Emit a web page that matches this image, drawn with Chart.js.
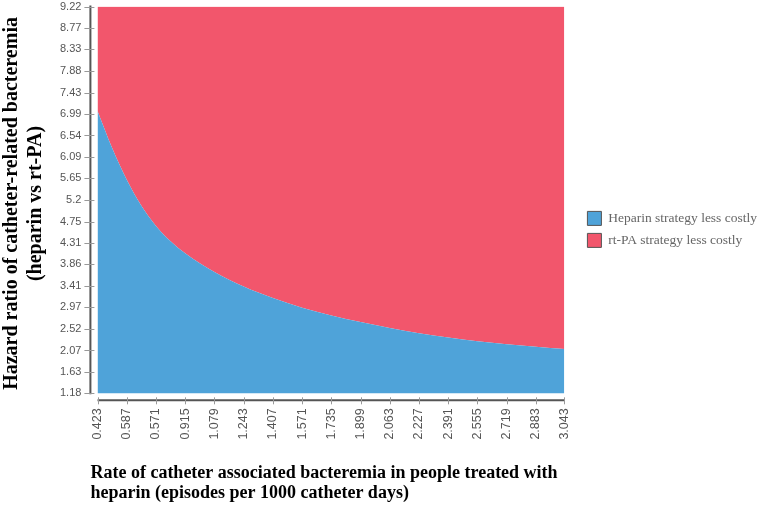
<!DOCTYPE html>
<html>
<head>
<meta charset="utf-8">
<script src="https://cdn.jsdelivr.net/npm/chart.js@4/dist/chart.umd.min.js"></script>
<style>
  html, body { margin: 0; padding: 0; background: #fff; }
  #wrap { width: 765px; height: 508px; }
</style>
</head>
<body>
<div id="wrap"><canvas id="chart" width="765" height="508"></canvas></div>
<script>
// x axis ticks (labels copied as printed, including "0.571")
const xTicks = [0.423, 0.587, 0.751, 0.915, 1.079, 1.243, 1.407, 1.571, 1.735, 1.899, 2.063, 2.227, 2.391, 2.555, 2.719, 2.883, 3.043];
const xTickLabels = ["0.423", "0.587", "0.571", "0.915", "1.079", "1.243", "1.407", "1.571", "1.735", "1.899", "2.063", "2.227", "2.391", "2.555", "2.719", "2.883", "3.043"];

// y axis ticks
const yTicks = [9.22, 8.77, 8.33, 7.88, 7.43, 6.99, 6.54, 6.09, 5.65, 5.2, 4.75, 4.31, 3.86, 3.41, 2.97, 2.52, 2.07, 1.63, 1.18];
const yTickLabels = ["9.22", "8.77", "8.33", "7.88", "7.43", "6.99", "6.54", "6.09", "5.65", "5.2", "4.75", "4.31", "3.86", "3.41", "2.97", "2.52", "2.07", "1.63", "1.18"];

// threshold curve: below = heparin less costly, above = rt-PA less costly
const curveX = [0.423, 0.505, 0.587, 0.669, 0.751, 0.833, 0.915, 1.079, 1.243, 1.407, 1.571, 1.735, 1.899, 2.063, 2.227, 2.391, 2.555, 2.719, 2.883, 3.043];
const curveY = [7.05, 6.28, 5.62, 5.08, 4.66, 4.34, 4.09, 3.70, 3.40, 3.16, 2.96, 2.80, 2.66, 2.54, 2.43, 2.34, 2.26, 2.20, 2.15, 2.10];

const seriesNames = ["Heparin strategy less costly", "rt-PA strategy less costly"];

const BLUE = "#4fa3d9";
const RED = "#f2566c";

const yMin = yTicks[yTicks.length - 1];
const yMax = yTicks[0];

const fontSans = "'Liberation Sans', Arial, sans-serif";
const fontSerif = "'Liberation Serif', 'Times New Roman', serif";

// extra gap between plot and legend items (legend padding also sets row spacing)
const LEGEND_GAP = 15;

// axis lines + crossing tick marks, offset from the plot like the original
const axesPlugin = {
    id: "axes",
    beforeLayout(chart) {
        const legend = chart.legend;
        if (legend && !legend._widened) {
            const fit = legend.fit;
            legend.fit = function () {
                fit.call(this);
                this.width += LEGEND_GAP;
            };
            legend._widened = true;
        }
    },
    afterLayout(chart) {
        chart.legend.left += LEGEND_GAP;
        chart.legend.right += LEGEND_GAP;
    },
    afterDraw(chart) {
        const ctx = chart.ctx;
        const x = chart.scales.x;
        const y = chart.scales.y;
        const area = chart.chartArea;
        ctx.save();
        ctx.strokeStyle = "#555";
        ctx.lineWidth = 2;
        ctx.beginPath();
        ctx.moveTo(x.getPixelForValue(xTicks[0]), area.bottom);
        ctx.lineTo(x.getPixelForValue(xTicks[xTicks.length - 1]), area.bottom);
        ctx.moveTo(area.left, y.getPixelForValue(yMax) - 1);
        ctx.lineTo(area.left, y.getPixelForValue(yMin) + 1);
        ctx.stroke();

        ctx.strokeStyle = "#999";
        ctx.lineWidth = 1;
        ctx.beginPath();
        xTicks.forEach(v => {
            const px = Math.round(x.getPixelForValue(v)) + 0.5;
            ctx.moveTo(px, area.bottom - 3);
            ctx.lineTo(px, area.bottom + 4);
        });
        yTicks.forEach(v => {
            const py = Math.round(y.getPixelForValue(v)) + 0.5;
            ctx.moveTo(area.left - 6, py);
            ctx.lineTo(area.left + 4, py);
        });
        ctx.stroke();
        ctx.restore();
    }
};

new Chart(document.getElementById("chart"), {
    type: "line",
    data: {
        datasets: [{
            label: seriesNames[0],
            data: curveX.map((v, i) => ({ x: v, y: curveY[i] })),
            backgroundColor: BLUE,
            borderWidth: 0,
            pointRadius: 0,
            cubicInterpolationMode: "monotone",
            fill: { value: yMin }
        }, {
            label: seriesNames[1],
            data: curveX.map(v => ({ x: v, y: yMax })),
            backgroundColor: RED,
            borderWidth: 0,
            pointRadius: 0,
            fill: "-1"
        }]
    },
    options: {
        responsive: false,
        animation: false,
        layout: { padding: { top: 0, right: -2, left: 0, bottom: 4 } },
        plugins: {
            tooltip: { enabled: false },
            legend: {
                position: "right",
                align: "start",
                title: { display: true, text: " ", padding: { top: 189, bottom: 0 } },
                labels: {
                    boxWidth: 14,
                    boxHeight: 14,
                    padding: 8,
                    color: "#333",
                    font: { family: fontSerif, size: 13.5 },
                    generateLabels: chart => chart.data.datasets.map((ds, i) => ({
                        text: ds.label,
                        fillStyle: ds.backgroundColor,
                        strokeStyle: "#555",
                        lineWidth: 1,
                        datasetIndex: i
                    }))
                }
            }
        },
        scales: {
            x: {
                type: "linear",
                min: 0.383,
                max: 3.043,
                afterBuildTicks: scale => { scale.ticks = xTicks.map(v => ({ value: v })); },
                grid: { display: false, drawTicks: true, tickLength: 8 },
                border: { display: false },
                ticks: {
                    autoSkip: false,
                    minRotation: 90,
                    maxRotation: 90,
                    padding: 0,
                    color: "#555",
                    font: { family: fontSans, size: 12.5 },
                    callback: (v, i) => xTickLabels[i]
                },
                title: {
                    display: true,
                    align: "start",
                    text: ["Rate of catheter associated bacteremia in people treated with",
                           "heparin (episodes per 1000 catheter days)"],
                    color: "#000",
                    font: { family: fontSerif, size: 18, weight: "bold", lineHeight: 1.15 },
                    padding: { top: 23, bottom: 0 }
                }
            },
            y: {
                type: "linear",
                min: 1.034,
                max: yMax,
                afterBuildTicks: scale => { scale.ticks = yTicks.map(v => ({ value: v })); },
                grid: { display: false, drawTicks: true, tickLength: 9 },
                border: { display: false },
                ticks: {
                    autoSkip: false,
                    padding: 0,
                    color: "#555",
                    font: { family: fontSans, size: 11 },
                    callback: (v, i) => yTickLabels[i]
                },
                title: {
                    display: true,
                    text: ["Hazard ratio of catheter-related bacteremia", "(heparin vs rt-PA)"],
                    color: "#000",
                    font: { family: fontSerif, size: 20, weight: "bold", lineHeight: 1.2 },
                    padding: { top: 0, bottom: 12 }
                }
            }
        }
    },
    plugins: [axesPlugin]
});
</script>
</body>
</html>
